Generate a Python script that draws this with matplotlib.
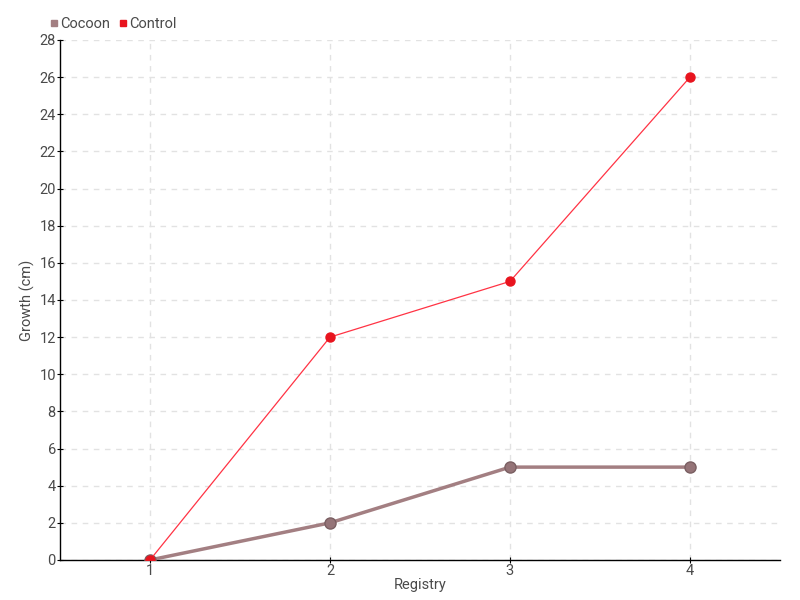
import matplotlib.pyplot as plt
from matplotlib.lines import Line2D

registry = [1, 2, 3, 4]
cocoon = [0, 2, 5, 5]
control = [0, 12, 15, 26]
y_ticks = list(range(0, 29, 2))

cocoon_color = '#a37f82'
control_color = '#e8141e'
text_color = '#4a4a4a'

plt.rcParams['font.family'] = ['Roboto', 'DejaVu Sans']

fig = plt.figure(figsize=(8, 6), dpi=100)
ax = fig.add_axes([0.075, 0.0667, 0.9, 0.8667])

ax.plot(registry, cocoon, color=cocoon_color, linewidth=2.5, marker='o',
        markersize=8, markerfacecolor='#957478', markeredgecolor='#7a5f62',
        markeredgewidth=1, zorder=3)
ax.plot(registry, control, color='#ff3344', linewidth=0.9, marker='o',
        markersize=6.5, markerfacecolor=control_color,
        markeredgecolor=control_color, zorder=4)

ax.set_xlim(0.5, 4.5)
ax.set_ylim(0, 28)
ax.set_xticks(registry)
ax.set_yticks(y_ticks)
ax.grid(True, color='#e2e2e2', linestyle=(0, (4, 4)), linewidth=1)
ax.set_axisbelow(True)

for s in ['top', 'right']:
    ax.spines[s].set_visible(False)
ax.spines['left'].set_linewidth(1)
ax.spines['bottom'].set_linewidth(1)
ax.tick_params(axis='both', labelcolor=text_color, labelsize=10.5, length=4,
               direction='inout', color='black', pad=1)

ax.set_xlabel('Registry', color=text_color, fontsize=10.5, labelpad=0)
ax.set_ylabel('Growth (cm)', color=text_color, fontsize=10.5, labelpad=3)

handles = [
    Line2D([], [], linestyle='none', marker='s', markersize=4,
           color=cocoon_color, label='Cocoon'),
    Line2D([], [], linestyle='none', marker='s', markersize=4,
           color=control_color, label='Control'),
]
fig.legend(handles=handles, loc='upper left', bbox_to_anchor=(0.044, 0.993),
           ncol=2, frameon=False, fontsize=10.5, handletextpad=0.0,
           columnspacing=0.5, labelcolor=text_color, handlelength=0.8)

fig.savefig('out.png', dpi=100)
